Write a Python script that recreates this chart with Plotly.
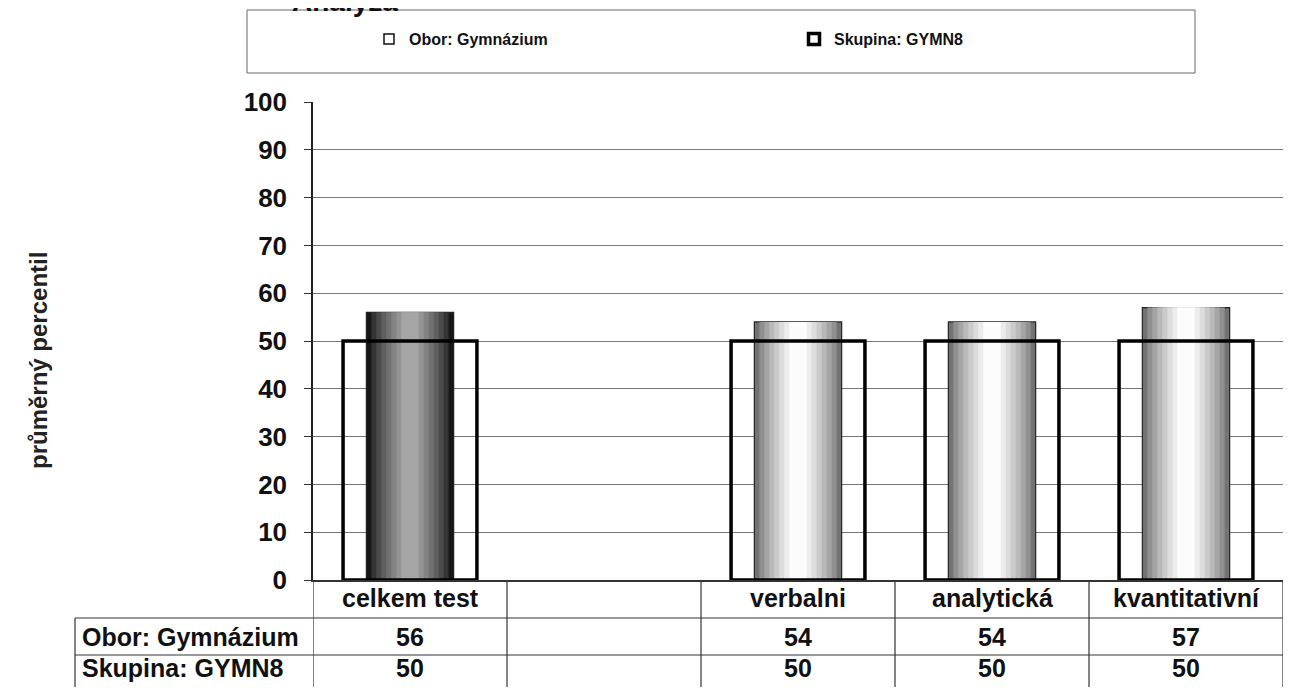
import plotly.graph_objects as go

# data
categories = ["celkem test", " ", "verbalni", "analytická", "kvantitativní"]
obor = [56, None, 54, 54, 57]
skupina = [50, None, 50, 50, 50]
series_names = ["Obor: Gymnázium", "Skupina: GYMN8"]
y_ticks = [0, 10, 20, 30, 40, 50, 60, 70, 80, 90, 100]

FONT = "Liberation Sans, Arial, sans-serif"

# the page body adds an 8px margin; work in page pixels and convert
OFF = 8
W, H = 1291 - 2 * OFF, 695 - 2 * OFF
P_L, P_R, P_T, P_B = 313, 1283, 102, 580  # plot area on the page


def py(p):  # page y -> paper y
    return (P_B - p) / (P_B - P_T)


def px_(p):  # page x -> paper x
    return (p - P_L) / (P_R - P_L)


fig = go.Figure()

# cylinder-ish shading for the Obor bars, stacked layers
n_layers = 8
dark = [(22, 22, 22), (165, 165, 165)]
light = [(115, 115, 115), (252, 252, 252)]
for i in range(n_layers):
    t = i / (n_layers - 1)
    cols = []
    for k, c in enumerate(categories):
        a, b = dark if k == 0 else light
        rgb = [round(a[j] + (b[j] - a[j]) * t ** 0.8) for j in range(3)]
        cols.append("rgb(%d,%d,%d)" % tuple(rgb))
    fig.add_trace(go.Bar(
        x=categories, y=obor,
        width=0.45 * (1 - t * 0.8),
        marker=dict(color=cols, line=dict(width=1.2 if i == 0 else 0, color="#222")),
        showlegend=False, name=series_names[0],
    ))

# Skupina: open black box
fig.add_trace(go.Bar(
    x=categories, y=skupina, width=0.69,
    marker=dict(color="rgba(0,0,0,0)", line=dict(width=3.5, color="#000")),
    showlegend=False, name=series_names[1],
))

# legend entries
fig.add_trace(go.Scatter(
    x=[None], y=[None], mode="markers", name=series_names[0],
    marker=dict(symbol="square", size=10, color="white", line=dict(width=1.5, color="#111")),
))
fig.add_trace(go.Scatter(
    x=[None], y=[None], mode="markers", name=series_names[1],
    marker=dict(symbol="square", size=11, color="white", line=dict(width=3.5, color="#000")),
))

shapes = []
ann = []
grid_line = dict(color="#333", width=1.2)

# legend frame
shapes.append(dict(type="rect", xref="paper", yref="paper",
                   x0=px_(247), x1=px_(1195), y0=py(73), y1=py(10),
                   line=dict(color="#666", width=1)))

# data table under the axis
row_y = [598, 637, 668]
lines_y = [618, 655]
for yy in lines_y:
    shapes.append(dict(type="line", xref="paper", yref="paper", x0=px_(75), x1=1,
                       y0=py(yy), y1=py(yy), line=grid_line))
for k in range(len(categories) + 1):
    shapes.append(dict(type="line", xref="x", yref="paper", x0=k - 0.5, x1=k - 0.5,
                       y0=0, y1=py(690), line=grid_line))
shapes.append(dict(type="line", xref="paper", yref="paper", x0=px_(75), x1=px_(75),
                   y0=py(lines_y[0]), y1=py(690), line=grid_line))

tfont = dict(family=FONT, size=25, color="#111", weight="bold")
for k, c in enumerate(categories):
    ann.append(dict(x=c, xref="x", y=py(row_y[0]), yref="paper", text=c.strip(),
                    xanchor="center", yanchor="middle", showarrow=False, font=tfont))
    for r, vals in enumerate([obor, skupina]):
        if vals[k] is not None:
            ann.append(dict(x=c, xref="x", y=py(row_y[r + 1]), yref="paper",
                            text=str(vals[k]), xanchor="center", yanchor="middle",
                            showarrow=False, font=tfont))
for r, nm in enumerate(series_names):
    ann.append(dict(x=px_(80), xref="paper", xanchor="left", y=py(row_y[r + 1]),
                    yref="paper", yanchor="middle", text=nm, showarrow=False, font=tfont))

# y axis title
ann.append(dict(x=px_(38), xref="paper", xanchor="center", y=py(361), yref="paper",
                yanchor="middle", text="průměrný percentil", textangle=-90,
                showarrow=False,
                font=dict(family=FONT, size=24, color="#222", weight="bold")))

# title, mostly cut off by the top of the page
ann.append(dict(x=px_(290), xref="paper", xanchor="left", y=py(19), yref="paper",
                yanchor="bottom", text="Analýza", showarrow=False,
                font=dict(family=FONT, size=28, color="#111", weight="bold")))

fig.update_layout(
    width=W, height=H,
    margin=dict(l=P_L - OFF, r=0, t=P_T - OFF, b=H - (P_B - OFF)),
    barmode="overlay",
    plot_bgcolor="white", paper_bgcolor="white",
    font=dict(family=FONT, color="#111"),
    legend=dict(orientation="h", x=px_(369), y=py(22), xanchor="left", yanchor="top",
                entrywidth=380, bgcolor="rgba(0,0,0,0)",
                font=dict(family=FONT, size=16, color="#111", weight="bold")),
    shapes=shapes, annotations=ann,
)
fig.update_xaxes(type="category", categoryarray=categories, showticklabels=False,
                 showline=True, linecolor="#333", linewidth=1.5, ticks="",
                 range=[-0.5, len(categories) - 0.5], showgrid=False)
fig.update_yaxes(range=[0, 100], tickvals=y_ticks, showgrid=True, gridcolor="#777",
                 gridwidth=1, showline=True, linecolor="#222", linewidth=1.5,
                 ticks="outside", ticklen=7, tickcolor="#333",
                 ticklabelstandoff=12, zeroline=False,
                 tickfont=dict(family=FONT, size=26, color="#111", weight="bold"))

fig.write_html("out.html")
